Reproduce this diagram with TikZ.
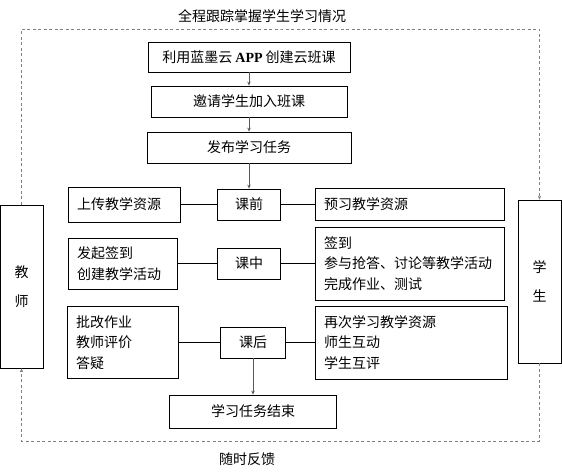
\documentclass[tikz,border=0pt]{standalone}
\usepackage{fontspec}
\setmainfont{Noto Sans CJK SC}
\newfontfamily\appfont{Liberation Serif}
\usetikzlibrary{arrows.meta}

\tikzset{
	box/.style={draw, line width=.8pt, inner sep=0pt, align=center},
	listbox/.style={box, align=left, inner xsep=9pt},
	flow/.style={draw=black!65, line width=.9pt, -{Stealth[length=4pt,width=3.5pt]}},
	link/.style={draw, line width=.8pt},
	feedback/.style={draw=black!50, line width=.8pt, dash pattern=on 3pt off 2.5pt, -{Stealth[length=4pt,width=3.5pt]}}
}

\begin{document}
\begin{tikzpicture}[x=1pt, y=-1pt, font=\fontsize{14}{20.5}\selectfont]
	\useasboundingbox (0,0) rectangle (562,473);
	% main steps
	\node[box, minimum width=202pt, minimum height=30pt] (create) at (249,57) {利用蓝墨云 {\appfont\bfseries APP} 创建云班课};
	\node[box, minimum width=196pt, minimum height=31pt] (invite) at (249,101.5) {邀请学生加入班课};
	\node[box, minimum width=204pt, minimum height=31pt] (publish) at (249,147.5) {发布学习任务};
	% stages
	\node[box, minimum width=63pt, minimum height=31pt] (before) at (249,204.5) {课前};
	\node[box, minimum width=63pt, minimum height=31pt] (during) at (249,263.5) {课中};
	\node[box, minimum width=65pt, minimum height=31pt] (after) at (253,342.5) {课后};
	\node[box, minimum width=167pt, minimum height=33pt] (finish) at (253,411.5) {学习任务结束};
	% teacher side
	\node[listbox, text width=94pt, minimum height=35pt] (upload) at (124,204.5) {上传教学资源};
	\node[listbox, text width=91pt, minimum height=51pt] (launch) at (122.5,263.5) {发起签到\\创建教学活动};
	\node[listbox, text width=93pt, minimum height=72pt] (grade) at (122.5,342.5) {批改作业\\教师评价\\答疑};
	% student side
	\node[listbox, text width=171pt, minimum height=32pt] (preview) at (409.5,204.5) {预习教学资源};
	\node[listbox, text width=171pt, minimum height=73pt] (signin) at (409.5,263.5) {签到\\参与抢答、讨论等教学活动\\完成作业、测试};
	\node[listbox, text width=174pt, minimum height=73pt] (review) at (411,342.5) {再次学习教学资源\\师生互动\\学生互评};
	% roles
	\node[box, minimum width=43pt, minimum height=163pt] (teacher) at (21.5,286.5) {教\\[8pt]师};
	\node[box, minimum width=43pt, minimum height=163pt] (student) at (539.5,281.5) {学\\[9pt]生};
	% feedback loop
	\coordinate (trackline) at (281,29);
	\coordinate (feedline) at (281,441);
	\node (track) at (262,16) {全程跟踪掌握学生学习情况};
	\node (feed) at (247,459) {随时反馈};

	\draw[flow] (create) -- (invite);
	\draw[flow] (invite) -- (publish);
	\draw[flow] (publish) -- (before);
	\draw[flow] (after) -- (finish);
	\draw[link] (upload) -- (before) -- (preview);
	\draw[link] (launch) -- (during) -- (signin);
	\draw[link] (grade) -- (after) -- (review);
	\draw[feedback] (teacher.north) |- (trackline) -| (student.north);
	\draw[feedback] (student.south) |- (feedline) -| (teacher.south);
\end{tikzpicture}
\end{document}
